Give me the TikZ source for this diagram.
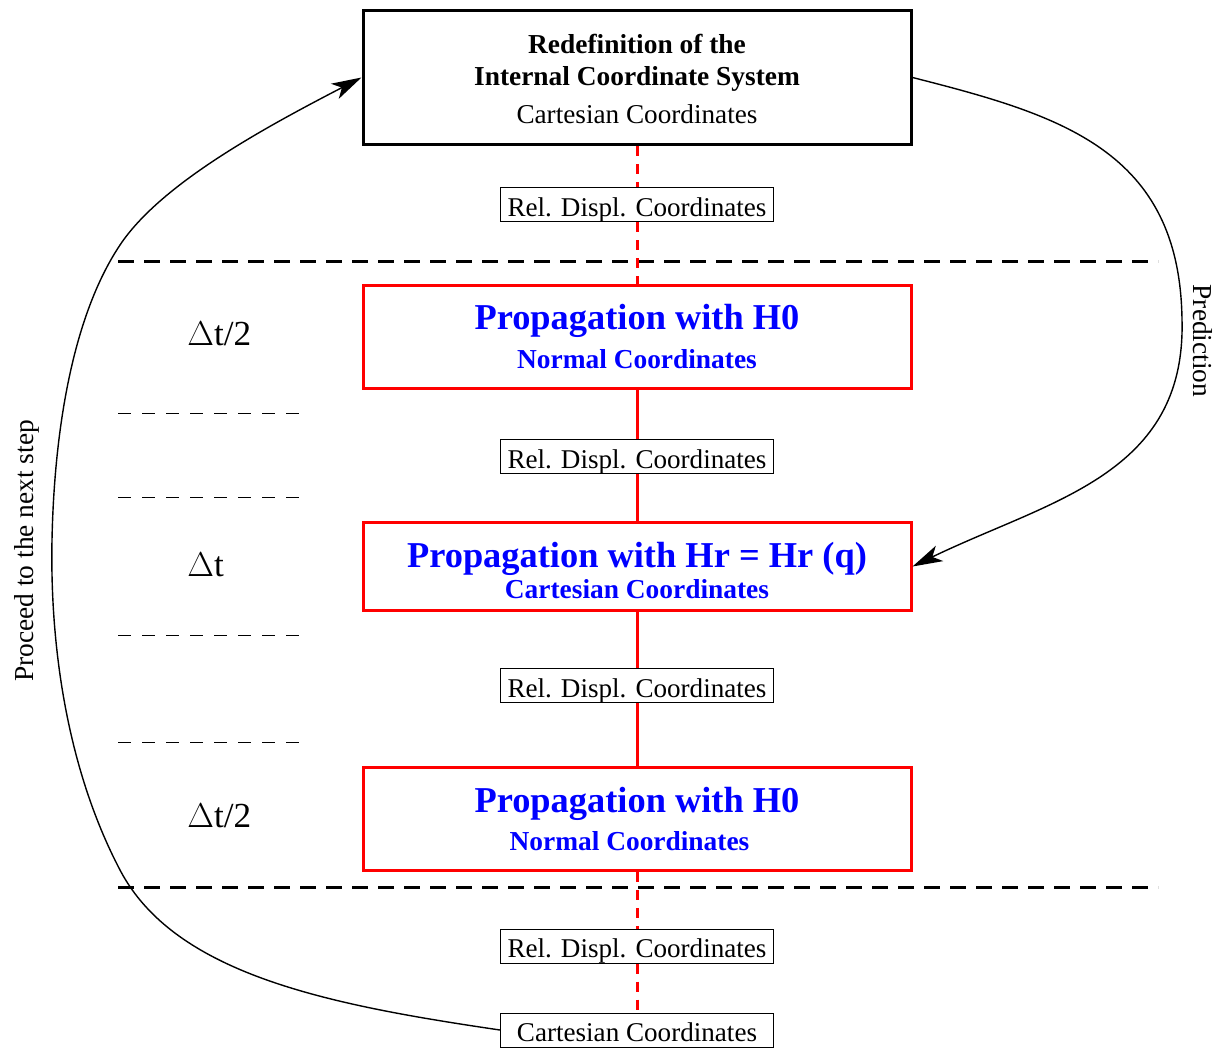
\documentclass[tikz,border=0pt]{standalone}
\usepackage{fontspec}
\setmainfont{Liberation Serif}
\usetikzlibrary{arrows.meta}
\begin{document}
\begin{tikzpicture}[x=0.5pt,y=-0.5pt,
  mainbox/.style={draw, line width=1.5pt, minimum width=274pt, inner sep=0pt},
  relbox/.style={draw, line width=0.5pt, fill=white, minimum width=136.5pt, minimum height=17pt,
    inner sep=0pt, text height=11.5pt, text depth=0pt, font=\fontsize{13.55}{16}\selectfont},
  smalltxt/.style={anchor=base, inner sep=0pt, font=\fontsize{13.6}{16}\selectfont},
  boldtxt/.style={anchor=base, inner sep=0pt, font=\fontsize{13.7}{16}\bfseries\selectfont},
  bigblue/.style={anchor=base, inner sep=0pt, text=blue, font=\fontsize{18.2}{21}\bfseries\selectfont},
  medblue/.style={anchor=base, inner sep=0pt, text=blue, font=\fontsize{13.7}{16}\bfseries\selectfont},
  dtlabel/.style={anchor=base west, inner sep=0pt, font=\fontsize{17.6}{21}\selectfont},
  sidelabel/.style={inner sep=0pt, font=\fontsize{13.7}{16}\selectfont},
  reddash/.style={draw=red, line width=1.5pt, dash pattern=on 5pt off 4pt},
  redline/.style={draw=red, line width=1.5pt},
  sepline/.style={draw=black, line width=1.5pt, dash pattern=on 8pt off 5pt},
  thinsep/.style={draw=black, line width=0.5pt, dash pattern=on 6.5pt off 5.5pt},
  curve/.style={draw=black, line width=0.7pt, -{Stealth[length=15pt,width=8.5pt,inset=4pt]}}
]
\useasboundingbox (0,0) rectangle (1220,1049);

% separator lines
\coordinate (s1a) at (118,261); \coordinate (s1b) at (1158,261);
\coordinate (s2a) at (118,887); \coordinate (s2b) at (1158,887);
\draw[sepline] (s1a) -- (s1b);
\draw[sepline] (s2a) -- (s2b);
\foreach \yy/\nm in {413/d1,497/d2,635/d3,742/d4}{
  \coordinate (\nm a) at (118,\yy); \coordinate (\nm b) at (302,\yy);
  \draw[thinsep] (\nm a) -- (\nm b);
}

% main boxes
\node[mainbox, draw=black, minimum height=67pt] (top) at (637,77.5) {};
\node[mainbox, draw=red, minimum height=51.5pt] (p1) at (637,337) {};
\node[mainbox, draw=red, minimum height=44pt] (p2) at (637,566.5) {};
\node[mainbox, draw=red, minimum height=51.5pt] (p3) at (637,819) {};

% relative displacement boxes
\node[relbox] (r1) at (637,204.5) {Rel. Displ. Coordinates};
\node[relbox] (r2) at (637,456.5) {Rel. Displ. Coordinates};
\node[relbox] (r3) at (637,685.5) {Rel. Displ. Coordinates};
\node[relbox] (r4) at (637,946) {Rel. Displ. Coordinates};
\node[relbox] (cart) at (637,1030) {Cartesian Coordinates};

% vertical connectors
\draw[reddash] (top.south) -- (r1.north);
\draw[reddash] (r1.south) -- (p1.north);
\draw[redline] (p1.south) -- (r2.north);
\draw[redline] (r2.south) -- (p2.north);
\draw[redline] (p2.south) -- (r3.north);
\draw[redline] (r3.south) -- (p3.north);
\draw[reddash] (p3.south) -- (r4.north);
\draw[reddash] (r4.south) -- (cart.north);

% box texts
\node[boldtxt] (t1) at (637,54) {Redefinition of the};
\node[boldtxt] (t2) at (637,85) {Internal Coordinate System};
\node[smalltxt] (t3) at (637,123) {Cartesian Coordinates};

\node[bigblue] (p1a) at (637,329) {Propagation with H0};
\node[medblue] (p1b) at (637,368) {Normal Coordinates};

\node[bigblue] (p2a) at (637,567) {Propagation with Hr = Hr (q)};
\node[medblue] (p2b) at (637,598) {Cartesian Coordinates};

\node[bigblue] (p3a) at (637,812) {Propagation with H0};
\node[medblue] (p3b) at (629.5,850) {Normal Coordinates};

% time step labels
\node[dtlabel] (dt1) at (187,345) {$\Delta$t/2};
\node[dtlabel] (dt2) at (187,576) {$\Delta$t};
\node[dtlabel] (dt3) at (187,827) {$\Delta$t/2};

% side labels
\node[sidelabel, rotate=-90] (pred) at (1203,341) {Prediction};
\node[sidelabel, rotate=90] (proc) at (27,551) {Proceed to the next step};

% curved arrows
\draw[curve] (top.east) .. controls (1060,115) and (1180,150) .. (1182,320)
  .. controls (1186,475) and (1050,500) .. (p2.east);
\draw[curve] (cart.west) .. controls (330,1005) and (175,975) .. (120,870)
  .. controls (65,765) and (50,640) .. (52,540)
  .. controls (54,440) and (70,320) .. (120,245)
  .. controls (160,185) and (260,130) .. (top.west);
\end{tikzpicture}
\end{document}
